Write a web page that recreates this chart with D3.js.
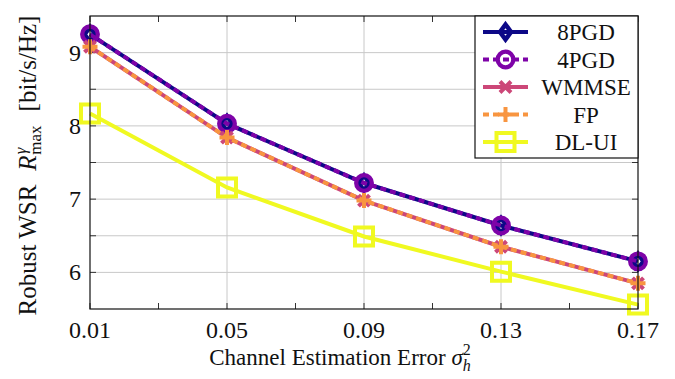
<!DOCTYPE html>
<html>
<head>
<meta charset="utf-8">
<script src="https://cdn.jsdelivr.net/npm/d3@7"></script>
<style>
  body { margin: 0; background: #fff; }
  text { font-family: "Liberation Serif", "DejaVu Serif", serif; fill: #111; }
</style>
</head>
<body>
<div id="chart"></div>
<script>
// data
const errors = [0.01, 0.05, 0.09, 0.13, 0.17];
const pgd8 = [9.25, 8.03, 7.22, 6.64, 6.15];
const pgd4 = [9.25, 8.03, 7.22, 6.64, 6.15];
const wmmse = [9.08, 7.84, 6.98, 6.35, 5.85];
const fp = [9.08, 7.84, 6.98, 6.35, 5.85];
const dlui = [8.17, 7.16, 6.49, 6.01, 5.56];
const xTickLabels = ['0.01', '0.05', '0.09', '0.13', '0.17'];
const yTickLabels = [6, 7, 8, 9];

const series = [
  { name: '8PGD', values: pgd8, color: '#0d0887', dash: null, marker: 'diamond' },
  { name: '4PGD', values: pgd4, color: '#7e03a8', dash: '6,4', marker: 'circle' },
  { name: 'WMMSE', values: wmmse, color: '#cc4778', dash: null, marker: 'cross' },
  { name: 'FP', values: fp, color: '#f89540', dash: '6,4', marker: 'plus' },
  { name: 'DL-UI', values: dlui, color: '#f0f921', dash: null, marker: 'square' }
];

const width = 675;
const height = 379;
const margin = { top: 16, right: 37, bottom: 70, left: 90 };
const lineWidth = 4;
const tickLen = 6;

const svg = d3.select('#chart').append('svg')
  .attr('width', width)
  .attr('height', height);

const x = d3.scaleLinear()
  .domain([0.01, 0.17])
  .range([margin.left, width - margin.right]);

const y = d3.scaleLinear()
  .domain([5.5, 9.5])
  .range([height - margin.bottom, margin.top]);

const x0 = x.range()[0], x1 = x.range()[1];
const y0 = y.range()[0], y1 = y.range()[1];

// grid
const yGrid = d3.range(6, 9.01, 0.5);
const xGrid = [0.05, 0.09, 0.13];
svg.append('g')
  .attr('stroke', '#c8c8c8')
  .attr('stroke-width', 1)
  .call(g => g.selectAll('.h').data(yGrid).join('line')
    .attr('x1', x0).attr('x2', x1)
    .attr('y1', d => y(d)).attr('y2', d => y(d)))
  .call(g => g.selectAll('.v').data(xGrid).join('line')
    .attr('class', 'v')
    .attr('y1', y0).attr('y2', y1)
    .attr('x1', d => x(d)).attr('x2', d => x(d)));

// ticks pointing inward on all four sides
const xTicks = d3.range(0.01, 0.1701, 0.02);
const ticks = svg.append('g').attr('stroke', '#333').attr('stroke-width', 1);
ticks.selectAll('.xb').data(xTicks).join('line')
  .attr('x1', d => x(d)).attr('x2', d => x(d))
  .attr('y1', y0).attr('y2', y0 - tickLen);
ticks.selectAll('.xt').data(xTicks).join('line').attr('class', 'xt')
  .attr('x1', d => x(d)).attr('x2', d => x(d))
  .attr('y1', y1).attr('y2', y1 + tickLen);
ticks.selectAll('.yl').data(yGrid).join('line').attr('class', 'yl')
  .attr('y1', d => y(d)).attr('y2', d => y(d))
  .attr('x1', x0).attr('x2', x0 + tickLen);
ticks.selectAll('.yr').data(yGrid).join('line').attr('class', 'yr')
  .attr('y1', d => y(d)).attr('y2', d => y(d))
  .attr('x1', x1).attr('x2', x1 - tickLen);

// tick labels
svg.append('g').selectAll('text').data(errors).join('text')
  .attr('x', d => x(d))
  .attr('y', y0 + 29)
  .attr('text-anchor', 'middle')
  .attr('font-size', 24)
  .text((d, i) => xTickLabels[i]);

svg.append('g').selectAll('text').data(yTickLabels).join('text')
  .attr('x', x0 - 9)
  .attr('y', d => y(d) + 8)
  .attr('text-anchor', 'end')
  .attr('font-size', 24)
  .text(d => d);

// axis titles
const xTitle = svg.append('text')
  .attr('x', (x0 + x1) / 2 - 24)
  .attr('y', height - 14)
  .attr('text-anchor', 'middle')
  .attr('font-size', 23);
xTitle.append('tspan').text('Channel Estimation Error ');
xTitle.append('tspan').attr('font-style', 'italic').text('σ');
xTitle.append('tspan').attr('font-size', 16).attr('dy', -10).text('2');
xTitle.append('tspan').attr('font-size', 16).attr('font-style', 'italic').attr('dx', -8).attr('dy', 16).text('h');

const yTitle = svg.append('text')
  .attr('transform', `translate(36,${(y0 + y1) / 2 + 3}) rotate(-90)`)
  .attr('text-anchor', 'middle')
  .attr('font-size', 25);
yTitle.append('tspan').text('Robust WSR');
yTitle.append('tspan').attr('dx', 14).attr('font-style', 'italic').text('R');
yTitle.append('tspan').attr('font-size', 17).attr('font-style', 'italic').attr('dx', 1).attr('dy', -10).text('γ');
yTitle.append('tspan').attr('font-size', 17).attr('dx', -7).attr('dy', 15).text('max');
yTitle.append('tspan').attr('dx', 14).attr('dy', -5).text('[bit/s/Hz]');

// markers
function markerPath(type) {
  switch (type) {
    case 'diamond': return 'M0,-7.5L5.5,0L0,7.5L-5.5,0Z';
    case 'cross': return 'M-5.5,-5.5L5.5,5.5M-5.5,5.5L5.5,-5.5';
    case 'plus': return 'M-7.5,0L7.5,0M0,-7.5L0,7.5';
    case 'square': return 'M-9,-9L9,-9L9,9L-9,9Z';
    default: return null;
  }
}

function drawMarker(g, s, cx, cy) {
  if (s.marker === 'circle') {
    g.append('circle')
      .attr('cx', cx).attr('cy', cy).attr('r', 7.8)
      .attr('fill', 'none')
      .attr('stroke', s.color)
      .attr('stroke-width', 4.3);
  } else {
    g.append('path')
      .attr('transform', `translate(${cx},${cy})`)
      .attr('d', markerPath(s.marker))
      .attr('fill', 'none')
      .attr('stroke', s.color)
      .attr('stroke-width', s.marker === 'diamond' ? 4.5 : 4)
      .attr('stroke-linejoin', 'miter');
  }
}

const line = d3.line()
  .x((d, i) => x(errors[i]))
  .y(d => y(d));

const plots = svg.append('g');
series.forEach(s => {
  const g = plots.append('g');
  g.append('path')
    .attr('d', line(s.values))
    .attr('fill', 'none')
    .attr('stroke', s.color)
    .attr('stroke-width', lineWidth)
    .attr('stroke-dasharray', s.dash);
  s.values.forEach((v, i) => drawMarker(g, s, x(errors[i]), y(v)));
});

// frame
svg.append('rect')
  .attr('x', x0).attr('y', y1)
  .attr('width', x1 - x0).attr('height', y0 - y1)
  .attr('fill', 'none')
  .attr('stroke', '#111')
  .attr('stroke-width', 1.2);

// legend
const legend = svg.append('g');
legend.append('rect')
  .attr('x', 475).attr('y', y1)
  .attr('width', x1 - 475).attr('height', 142)
  .attr('fill', '#fff')
  .attr('stroke', '#111')
  .attr('stroke-width', 1.2);

series.forEach((s, i) => {
  const ly = 32 + i * 27.5;
  const g = legend.append('g');
  g.append('line')
    .attr('x1', 483).attr('x2', 528)
    .attr('y1', ly).attr('y2', ly)
    .attr('stroke', s.color)
    .attr('stroke-width', lineWidth)
    .attr('stroke-dasharray', s.dash);
  drawMarker(g, s, 505.5, ly);
  g.append('text')
    .attr('x', 586)
    .attr('y', ly + 8)
    .attr('text-anchor', 'middle')
    .attr('font-size', 23)
    .text(s.name);
});
</script>
</body>
</html>
